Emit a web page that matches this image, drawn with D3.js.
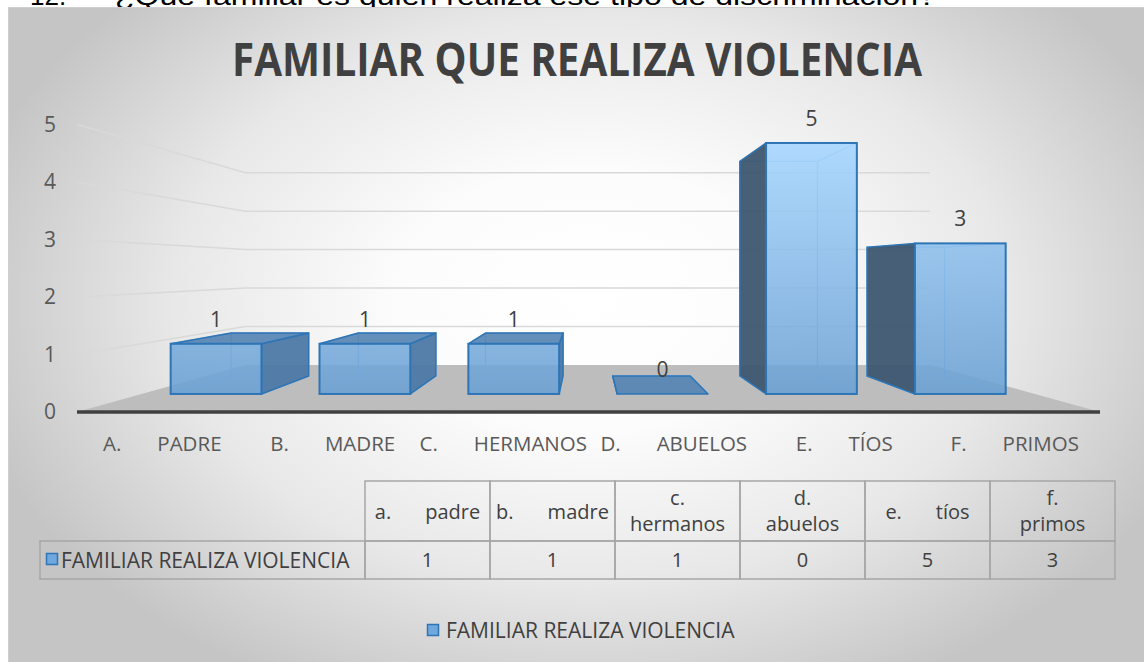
<!DOCTYPE html>
<html>
<head>
<meta charset="utf-8">
<script src="https://cdn.jsdelivr.net/npm/d3@7"></script>
<style>
  body { margin: 0; background: #fff; }
  svg { display: block; font-family: "Open Sans", sans-serif; }
</style>
</head>
<body>
<svg width="1144" height="662"></svg>
<script>
// data
var categoryLetters = ["A.", "B.", "C.", "D.", "E.", "F."];
var categoryNames = ["PADRE", "MADRE", "HERMANOS", "ABUELOS", "TÍOS", "PRIMOS"];
// table headers: "\t" = tab on one line, "\n" = wrapped onto two lines
var tableHeaders = ["a.\tpadre", "b.\tmadre", "c.\nhermanos", "d.\nabuelos", "e.\ttíos", "f.\nprimos"];
var values = [1, 1, 1, 0, 5, 3];
var yTicks = [0, 1, 2, 3, 4, 5];
var seriesName = "FAMILIAR REALIZA VIOLENCIA";
var chartTitle = "FAMILIAR QUE REALIZA VIOLENCIA";
var questionNum = "12.";
var questionText = "¿Qué familiar es quién realiza ese tipo de discriminación?";

var svg = d3.select("svg");
var defs = svg.append("defs");

// background gradient
var bg = defs.append("radialGradient").attr("id", "bgGrad")
    .attr("gradientUnits", "userSpaceOnUse")
    .attr("cx", 590).attr("cy", 300).attr("r", 640)
    .attr("gradientTransform", "translate(590,300) scale(1,0.68) translate(-590,-300)");
[[0, "#ffffff"], [0.3, "#fcfcfc"], [0.65, "#e8e8e8"], [1, "#c5c5c5"]].forEach(function(s) {
  bg.append("stop").attr("offset", s[0]).attr("stop-color", s[1]);
});

var fg = defs.append("linearGradient").attr("id", "frontGrad")
    .attr("gradientUnits", "userSpaceOnUse")
    .attr("x1", 0).attr("y1", 140).attr("x2", 0).attr("y2", 395);
fg.append("stop").attr("offset", 0).attr("stop-color", "#a6d6ff");
fg.append("stop").attr("offset", 1).attr("stop-color", "#6ba0d3");

// question line (only its lower part shows above the chart)
svg.append("text").attr("x", 30).attr("y", 5)
    .attr("font-family", "Liberation Sans, Arial").attr("font-size", 26).attr("fill", "#000")
    .text(questionNum);
svg.append("text").attr("x", 115).attr("y", 5)
    .attr("font-family", "Liberation Sans, Arial").attr("font-size", 26).attr("fill", "#000")
    .attr("textLength", 821).attr("lengthAdjust", "spacingAndGlyphs")
    .text(questionText);

// chart area
svg.append("rect").attr("x", 8.5).attr("y", 7.5).attr("width", 1140).attr("height", 660)
    .attr("fill", "url(#bgGrad)").attr("stroke", "#cfcfcf");

svg.append("text").attr("x", 577).attr("y", 76)
    .attr("text-anchor", "middle").attr("font-weight", "bold").attr("font-size", 46)
    .attr("fill", "#404040").attr("textLength", 690).attr("lengthAdjust", "spacingAndGlyphs")
    .text(chartTitle);

// perspective: front plane coords projected toward a vanishing point
var vp = [586, 270];
var sFloorFront = 1, sFloorBack = 0.669, sBarFront = 0.873, sBarBack = 0.746;
function proj(px, py, s) { return [vp[0] + s * (px - vp[0]), vp[1] + s * (py - vp[1])]; }

var xCat = d3.scaleBand().domain(d3.range(values.length)).range([77, 1100]);
var x = d3.scaleBand().domain(d3.range(values.length)).range([77, 1100])
    .paddingInner(0.39).paddingOuter(0.195);
var y = d3.scaleLinear().domain([0, 5]).range([412, 124.5]);

var line = d3.line();
function poly(pts) { return line(pts) + "Z"; }

// gridlines: side wall then back wall
var x0 = xCat.range()[0], x1 = xCat.range()[1];
svg.append("g").selectAll("path")
  .data(yTicks.filter(function(d) { return d > 0; }))
  .enter().append("path")
    .attr("d", function(d) {
      return line([proj(x0, y(d), sFloorFront), proj(x0, y(d), sFloorBack), proj(x1, y(d), sFloorBack)]);
    })
    .attr("fill", "none").attr("stroke", "#d9d9d9").attr("stroke-width", 1.5);

// floor
svg.append("path")
    .attr("d", poly([proj(x0, y(0), sFloorFront), proj(x0, y(0), sFloorBack),
                     proj(x1, y(0), sFloorBack), proj(x1, y(0), sFloorFront)]))
    .attr("fill", "#bdbdbd");
svg.append("line").attr("x1", x0).attr("x2", x1).attr("y1", y(0)).attr("y2", y(0))
    .attr("stroke", "#404040").attr("stroke-width", 3.5);

// y axis labels
var yAxis = d3.axisLeft(y).tickValues(yTicks).tickSize(0).tickPadding(21).tickFormat(d3.format("d"));
svg.append("g").attr("transform", "translate(" + x0 + ",0)").call(yAxis)
    .attr("font-family", "Open Sans").attr("font-size", 21)
    .call(function(g) { g.select(".domain").remove(); })
    .selectAll("text").attr("fill", "#595959");

// bars
var bars = svg.append("g");
values.forEach(function(v, i) {
  var bx0 = x(i), bx1 = x(i) + x.bandwidth(), yt = y(v), yb = y(0);
  var F = function(px, py) { return proj(px, py, sBarFront); };
  var B = function(px, py) { return proj(px, py, sBarBack); };
  var g = bars.append("g");
  var leftOfVp = (bx0 + bx1) / 2 < vp[0];

  // hidden edges seen through the front face
  var hidden = poly([B(bx0, yb), B(bx1, yb), B(bx1, yt), B(bx0, yt)]) +
      line([F(bx0, yb), B(bx0, yb)]) + line([F(bx1, yb), B(bx1, yb)]) +
      line(leftOfVp ? [F(bx0, yt), B(bx0, yt)] : [F(bx1, yt), B(bx1, yt)]);
  g.append("path").attr("d", hidden).attr("fill", "none")
      .attr("stroke", "#8bbbe8").attr("stroke-width", 1.3);

  // side face
  var sx = leftOfVp ? bx1 : bx0;
  g.append("path").attr("d", poly([F(sx, yt), B(sx, yt), B(sx, yb), F(sx, yb)]))
      .attr("fill", leftOfVp ? "#4d79a5" : "#3d5670").attr("fill-opacity", 0.95)
      .attr("stroke", "#2e75b6").attr("stroke-width", 1.5).attr("stroke-linejoin", "round");

  // top face
  if (yt > vp[1]) {
    g.append("path").attr("d", poly([F(bx0, yt), F(bx1, yt), B(bx1, yt), B(bx0, yt)]))
        .attr("fill", "#5283b3").attr("fill-opacity", 0.9)
        .attr("stroke", "#2e75b6").attr("stroke-width", 1.5).attr("stroke-linejoin", "round");
  }

  // front face
  var ft = F(bx0, yt), fb = F(bx1, yb);
  g.append("rect").attr("x", ft[0]).attr("y", ft[1])
      .attr("width", fb[0] - ft[0]).attr("height", fb[1] - ft[1])
      .attr("fill", "url(#frontGrad)").attr("fill-opacity", 0.88)
      .attr("stroke", "#2e75b6").attr("stroke-width", 2);

  // value label
  g.append("text").attr("x", (ft[0] + fb[0]) / 2).attr("y", ft[1] - 17)
      .attr("text-anchor", "middle").attr("font-size", 21).attr("fill", "#404040")
      .text(v);
});

// category labels
var tabGap = 36;
var catLabels = svg.append("g").selectAll("text")
  .data(d3.range(values.length))
  .enter().append("text")
    .attr("x", function(i) { return xCat(i) + xCat.bandwidth() / 2; })
    .attr("y", 451)
    .attr("text-anchor", "middle").attr("font-size", 20.5).attr("fill", "#595959");
catLabels.append("tspan").text(function(i) { return categoryLetters[i]; });
catLabels.append("tspan").attr("dx", tabGap).text(function(i) { return categoryNames[i]; });

// data table
var col = d3.scaleBand().domain(d3.range(values.length)).range([365, 1115]);
var tTop = 481, tMid = 541, tBot = 579;
var table = svg.append("g").attr("fill", "none").attr("stroke", "#a6a6a6").attr("stroke-width", 1.5);
d3.range(values.length).forEach(function(i) {
  table.append("rect").attr("x", col(i)).attr("y", tTop).attr("width", col.bandwidth()).attr("height", tMid - tTop);
  table.append("rect").attr("x", col(i)).attr("y", tMid).attr("width", col.bandwidth()).attr("height", tBot - tMid);
});
table.append("rect").attr("x", 40).attr("y", tMid).attr("width", 325).attr("height", tBot - tMid);

var head = svg.append("g").attr("font-size", 20).attr("fill", "#404040").attr("text-anchor", "middle");
tableHeaders.forEach(function(h, i) {
  var cx = col(i) + col.bandwidth() / 2;
  if (h.indexOf("\n") >= 0) {
    var parts = h.split("\n");
    head.append("text").attr("x", cx).attr("y", 505).text(parts[0]);
    head.append("text").attr("x", cx).attr("y", 531).text(parts[1]);
  } else {
    var p = h.split("\t");
    var t = head.append("text").attr("x", cx).attr("y", 519);
    t.append("tspan").text(p[0]);
    t.append("tspan").attr("dx", 34).text(p[1]);
  }
});

svg.append("g").selectAll("text")
  .data(values)
  .enter().append("text")
    .attr("x", function(d, i) { return col(i) + col.bandwidth() / 2; })
    .attr("y", 567).attr("text-anchor", "middle").attr("font-size", 20).attr("fill", "#404040")
    .text(function(d) { return d; });

svg.append("rect").attr("x", 46.5).attr("y", 553.5).attr("width", 11).attr("height", 11)
    .attr("fill", "#6fa8dc").attr("stroke", "#2e75b6").attr("stroke-width", 1.5);
svg.append("text").attr("x", 61).attr("y", 568).attr("font-size", 21).attr("fill", "#404040")
    .text(seriesName);

// legend
svg.append("rect").attr("x", 427.5).attr("y", 624.5).attr("width", 11).attr("height", 11)
    .attr("fill", "#6fa8dc").attr("stroke", "#2e75b6").attr("stroke-width", 1.5);
svg.append("text").attr("x", 446).attr("y", 638).attr("font-size", 21).attr("fill", "#404040")
    .text(seriesName);
</script>
</body>
</html>
